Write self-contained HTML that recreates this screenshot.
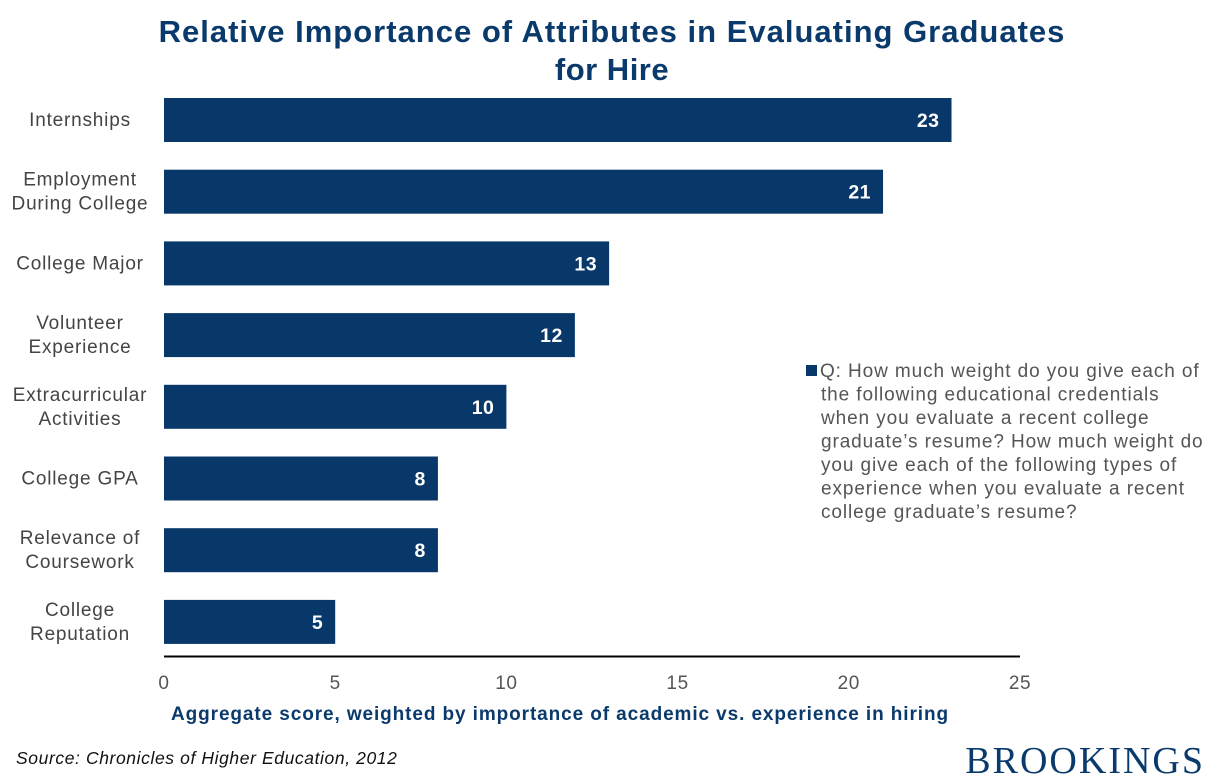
<!DOCTYPE html>
<html><head><meta charset="utf-8"><style>
html,body{margin:0;padding:0;background:#fff;}
svg{display:block;font-family:"Liberation Sans",Arial,sans-serif;}
</style></head><body>
<svg id="chart" width="1223" height="784" viewBox="0 0 1223 784">
<text x="612" y="42" text-anchor="middle" font-size="31" font-weight="bold" letter-spacing="1" fill="#0a3a6b">Relative Importance of Attributes in Evaluating Graduates</text>
<text x="612" y="80" text-anchor="middle" font-size="31" font-weight="bold" letter-spacing="0.5" fill="#0a3a6b">for Hire</text>
<g id="bars"></g>
<g id="axis"></g>
<text x="560" y="720" text-anchor="middle" font-size="19" font-weight="bold" letter-spacing="0.9" fill="#0a3a6b">Aggregate score, weighted by importance of academic vs. experience in hiring</text>
<g>
<rect x="806" y="365" width="11" height="11" fill="#08386a"/>
<text font-size="19" letter-spacing="0.9" fill="#555">
<tspan x="820" y="377">Q: How much weight do you give each of</tspan>
<tspan x="821" y="400.5">the following educational credentials</tspan>
<tspan x="821" y="424">when you evaluate a recent college</tspan>
<tspan x="821" y="447.5">graduate’s resume? How much weight do</tspan>
<tspan x="821" y="471">you give each of the following types of</tspan>
<tspan x="821" y="494.5">experience when you evaluate a recent</tspan>
<tspan x="821" y="518">college graduate’s resume?</tspan>
</text>
</g>
<text x="16" y="764" font-size="17.5" font-style="italic" letter-spacing="0.6" fill="#111">Source: Chronicles of Higher Education, 2012</text>
<text x="1205" y="773" text-anchor="end" font-family="Liberation Serif,serif" font-size="38" fill="#0a3a6b" letter-spacing="2">BROOKINGS</text>
</svg>
<script>
const categories = [["Internships"],["Employment","During College"],["College Major"],["Volunteer","Experience"],["Extracurricular","Activities"],["College GPA"],["Relevance of","Coursework"],["College","Reputation"]];
const values = [23,21,13,12,10,8,8,5];
const ticks = [0,5,10,15,20,25];
const NS="http://www.w3.org/2000/svg";
const x0=164,x1=1020,xmax=25;
const xs=v=>x0+(x1-x0)*v/xmax;
const yTop=98,pitch=71.7,bh=44;
const ys=i=>yTop+i*pitch;
const bars=document.getElementById('bars');
const axis=document.getElementById('axis');
function mk(tag,attrs,parent,text){const e=document.createElementNS(NS,tag);for(const k in attrs)e.setAttribute(k,attrs[k]);if(text!==undefined)e.textContent=text;parent.appendChild(e);return e;}
values.forEach((v,i)=>{
  const r=mk('rect',{x:x0,y:ys(i),width:xs(v)-x0,height:bh,fill:'#08386a'},bars);
  
  
  const t=mk('text',{x:xs(v)-12,y:ys(i)+bh/2+7,'text-anchor':'end','font-size':19.5,'font-weight':'bold','letter-spacing':0.5,fill:'#fff'},bars,String(v));
  
  
  const lines=categories[i];
  const lbl=mk('text',{'text-anchor':'middle','font-size':19,'letter-spacing':0.8,fill:'#444'},bars);
  
  
  const cy=ys(i)+bh/2+6;
  lines.forEach((s,j)=>{mk('tspan',{x:80,y:cy+(j-(lines.length-1)/2)*24},lbl,s);});
});
const al=mk('line',{x1:x0,x2:x1,y1:656.5,y2:656.5,stroke:'#000','stroke-width':2},axis);


ticks.forEach(t=>{
  const e=mk('text',{x:xs(t),y:689,'text-anchor':'middle','font-size':19,'letter-spacing':0.6,fill:'#555'},axis,String(t));
  
  
});
</script>
</body></html>
